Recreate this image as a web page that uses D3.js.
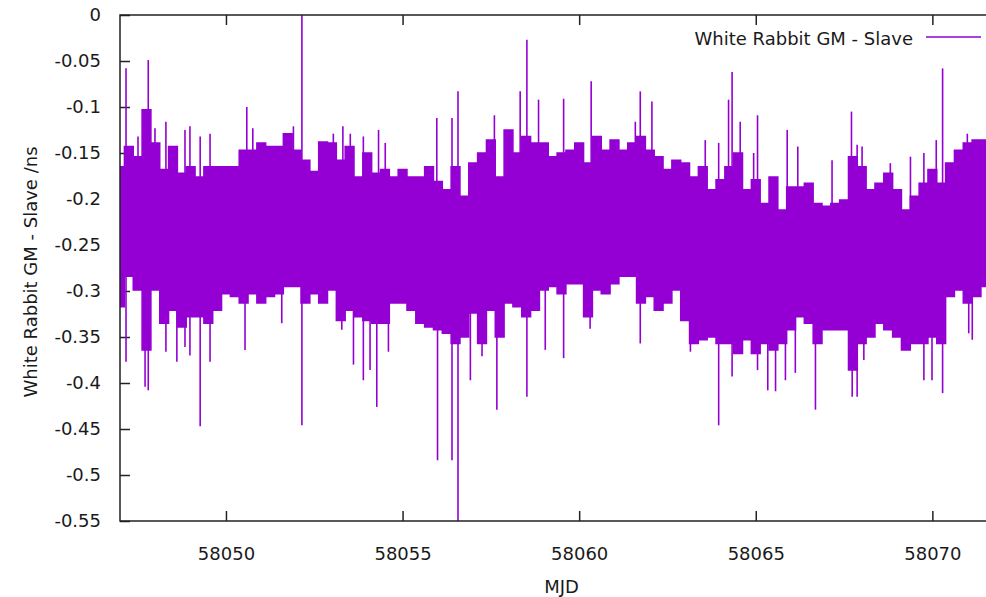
<!DOCTYPE html>
<html><head><meta charset="utf-8">
<script src="https://cdn.jsdelivr.net/npm/d3@7"></script>
<style>
body{margin:0;background:#fff}
svg{display:block}
text{font-family:"DejaVu Sans",sans-serif;fill:#1a1a1a}
</style>
</head><body>
<svg id="c" width="986" height="597"></svg>
<script>
// ---- data ----
const seriesName = "White Rabbit GM - Slave";
const envStart = 58047;      // MJD of first envelope sample
const envStep = 0.25;        // days between envelope samples
const upper = [-0.165,-0.143,-0.154,-0.103,-0.139,-0.168,-0.143,-0.172,-0.165,-0.176,-0.165,-0.165,-0.165,-0.165,-0.147,-0.147,-0.139,
  -0.143,-0.143,-0.129,-0.147,-0.158,-0.170,-0.138,-0.139,-0.158,-0.143,-0.176,-0.150,-0.172,-0.168,-0.176,-0.168,
  -0.176,-0.176,-0.165,-0.181,-0.190,-0.165,-0.197,-0.161,-0.150,-0.136,-0.176,-0.125,-0.150,-0.132,-0.139,-0.139,-0.154,
  -0.150,-0.147,-0.139,-0.161,-0.132,-0.147,-0.136,-0.147,-0.139,-0.132,-0.147,-0.154,-0.168,-0.158,-0.161,-0.176,
  -0.165,-0.190,-0.179,-0.165,-0.150,-0.190,-0.179,-0.205,-0.176,-0.212,-0.187,-0.187,-0.183,-0.205,-0.208,-0.205,-0.201,
  -0.154,-0.165,-0.190,-0.183,-0.172,-0.190,-0.212,-0.197,-0.183,-0.168,-0.183,-0.161,-0.147,-0.139,-0.136,-0.136,-0.136,-0.140];
const lower = [-0.317,-0.284,-0.299,-0.364,-0.299,-0.335,-0.321,-0.339,-0.328,-0.328,-0.335,-0.321,-0.303,-0.306,-0.313,-0.303,-0.313,
  -0.306,-0.303,-0.295,-0.295,-0.313,-0.303,-0.313,-0.299,-0.332,-0.321,-0.328,-0.332,-0.335,-0.335,-0.313,-0.313,
  -0.321,-0.335,-0.339,-0.342,-0.346,-0.357,-0.350,-0.324,-0.357,-0.321,-0.350,-0.313,-0.317,-0.328,-0.321,-0.299,-0.295,
  -0.303,-0.292,-0.292,-0.328,-0.299,-0.303,-0.292,-0.284,-0.284,-0.313,-0.306,-0.321,-0.313,-0.299,-0.332,-0.357,
  -0.353,-0.350,-0.357,-0.357,-0.368,-0.353,-0.368,-0.357,-0.364,-0.357,-0.342,-0.328,-0.335,-0.357,-0.342,-0.342,-0.342,
  -0.386,-0.357,-0.350,-0.335,-0.342,-0.350,-0.364,-0.357,-0.357,-0.350,-0.357,-0.306,-0.299,-0.313,-0.306,-0.295,-0.300,-0.300];
const spikeUpMjd = [58047.17,58047.51,58047.80,58047.99,58048.30,58048.84,58048.98,58049.27,58049.55,58050.59,58050.76,
  58051.91,58052.15,58053.04,58053.31,58053.52,58053.89,58054.32,58054.51,58055.97,58056.40,58056.57,58057.60,58058.33,
  58058.52,58058.85,58059.56,58060.34,58061.59,58061.73,58062.06,58063.57,58063.95,58064.23,58064.33,58064.56,58064.94,
  58065.05,58065.89,58066.19,58067.16,58067.71,58067.87,58068.01,58068.81,58069.38,58069.76,58070.11,58070.29,58070.99];
const spikeUpVal = [-0.058,-0.132,-0.049,-0.123,-0.116,-0.125,-0.121,-0.132,-0.129,-0.100,-0.123,
  -0.121,0.01,-0.129,-0.121,-0.129,-0.132,-0.125,-0.139,-0.112,-0.112,-0.083,-0.109,-0.083,
  -0.027,-0.092,-0.091,-0.072,-0.116,-0.083,-0.094,-0.136,-0.139,-0.092,-0.062,-0.116,-0.150,
  -0.109,-0.125,-0.143,-0.158,-0.105,-0.141,-0.143,-0.161,-0.154,-0.150,-0.136,-0.058,-0.129];
const spikeDownMjd = [58047.17,58047.71,58047.80,58048.30,58048.61,58048.84,58048.98,58049.27,58049.55,58050.54,58051.58,
  58052.15,58053.28,58053.61,58053.89,58054.08,58054.27,58054.60,58055.99,58056.40,58056.57,58056.92,58057.25,58057.67,
  58058.52,58059.04,58059.56,58060.31,58061.73,58063.15,58063.95,58064.33,58065.05,58065.34,58065.56,58065.84,58066.12,
  58066.69,58067.73,58067.87,58068.06,58069.76,58069.99,58070.29,58071.03,58071.13];
const spikeDownVal = [-0.377,-0.404,-0.408,-0.366,-0.377,-0.361,-0.370,-0.447,-0.377,-0.364,-0.335,
  -0.446,-0.342,-0.380,-0.397,-0.386,-0.426,-0.366,-0.484,-0.484,-0.56,-0.397,-0.371,-0.429,
  -0.415,-0.364,-0.373,-0.341,-0.357,-0.366,-0.446,-0.393,-0.386,-0.408,-0.409,-0.397,-0.389,
  -0.429,-0.415,-0.415,-0.375,-0.397,-0.397,-0.411,-0.346,-0.353];
const yTicks = [0,-0.05,-0.1,-0.15,-0.2,-0.25,-0.3,-0.35,-0.4,-0.45,-0.5,-0.55];
const yTickLabels = ["0","-0.05","-0.1","-0.15","-0.2","-0.25","-0.3","-0.35","-0.4","-0.45","-0.5","-0.55"];
const xTicks = [58050,58055,58060,58065,58070];
const xTickLabels = ["58050","58055","58060","58065","58070"];
const xDomain = [58047, 58072];
const yDomain = [-0.55, 0];

// ---- layout ----
const L = 120, R = 1003, T = 15, B = 521;
const color = "#9400D3";
const fs = "18px";
const svg = d3.select("#c");
const x = d3.scaleLinear().domain(xDomain).range([L, R]);
const y = d3.scaleLinear().domain(yDomain).range([B, T]);

svg.append("defs").append("clipPath").attr("id","pc")
  .append("rect").attr("x",L).attr("y",T).attr("width",R-L).attr("height",B-T);

// ticks (inward, mirrored)
const tickLen = 10;
const axisColor = "#222";
const gL = svg.append("g").attr("transform",`translate(${L},0)`)
  .call(d3.axisLeft(y).tickValues(yTicks).tickSize(-tickLen).tickFormat((d,i)=>yTickLabels[i]).tickPadding(tickLen+9));
const gR = svg.append("g").attr("transform",`translate(${R},0)`)
  .call(d3.axisRight(y).tickValues(yTicks).tickSize(-tickLen).tickFormat(""));
const gB = svg.append("g").attr("transform",`translate(0,${B})`)
  .call(d3.axisBottom(x).tickValues(xTicks).tickSize(-tickLen).tickFormat((d,i)=>xTickLabels[i]).tickPadding(tickLen+16));
const gT = svg.append("g").attr("transform",`translate(0,${T})`)
  .call(d3.axisTop(x).tickValues(xTicks).tickSize(-tickLen).tickFormat(""));
[gL,gR,gB,gT].forEach(g=>{
  g.select(".domain").remove();
  g.selectAll(".tick line").attr("stroke",axisColor).attr("stroke-width",1.5);
  g.selectAll(".tick text").attr("font-size",fs).attr("font-family","DejaVu Sans").attr("fill","#1a1a1a");
});

// data
const env = upper.map((u,i)=>({t: envStart + i*envStep, hi: u, lo: lower[i]}));
const plot = svg.append("g").attr("clip-path","url(#pc)");
plot.append("path").datum(env)
  .attr("d", d3.area().x(d=>x(d.t)).y0(d=>y(d.lo)).y1(d=>y(d.hi)).curve(d3.curveStep))
  .attr("fill", color).attr("stroke", color).attr("stroke-width",1.5);
const mid = -0.24;
plot.selectAll("line.up").data(spikeUpMjd).join("line").attr("class","up")
  .attr("x1",d=>x(d)).attr("x2",d=>x(d)).attr("y1",y(mid)).attr("y2",(d,i)=>y(spikeUpVal[i]))
  .attr("stroke",color).attr("stroke-width",1.6);
plot.selectAll("line.dn").data(spikeDownMjd).join("line").attr("class","dn")
  .attr("x1",d=>x(d)).attr("x2",d=>x(d)).attr("y1",y(mid)).attr("y2",(d,i)=>y(spikeDownVal[i]))
  .attr("stroke",color).attr("stroke-width",1.6);

// border
svg.append("rect").attr("x",L).attr("y",T).attr("width",R-L).attr("height",B-T)
  .attr("fill","none").attr("stroke",axisColor).attr("stroke-width",1.5);

// legend
svg.append("text").attr("x",913).attr("y",38).attr("text-anchor","end").attr("dominant-baseline","central")
  .attr("font-size",fs).text(seriesName);
svg.append("line").attr("x1",926).attr("x2",981).attr("y1",37).attr("y2",37)
  .attr("stroke",color).attr("stroke-width",1.5);

// axis titles
svg.append("text").attr("x",(L+R)/2).attr("y",586).attr("text-anchor","middle").attr("dominant-baseline","central")
  .attr("font-size",fs).text("MJD");
svg.append("text").attr("transform","translate(30,272) rotate(-90)").attr("text-anchor","middle")
  .attr("dominant-baseline","central").attr("font-size",fs).text(seriesName + " /ns");
</script>
</body></html>
